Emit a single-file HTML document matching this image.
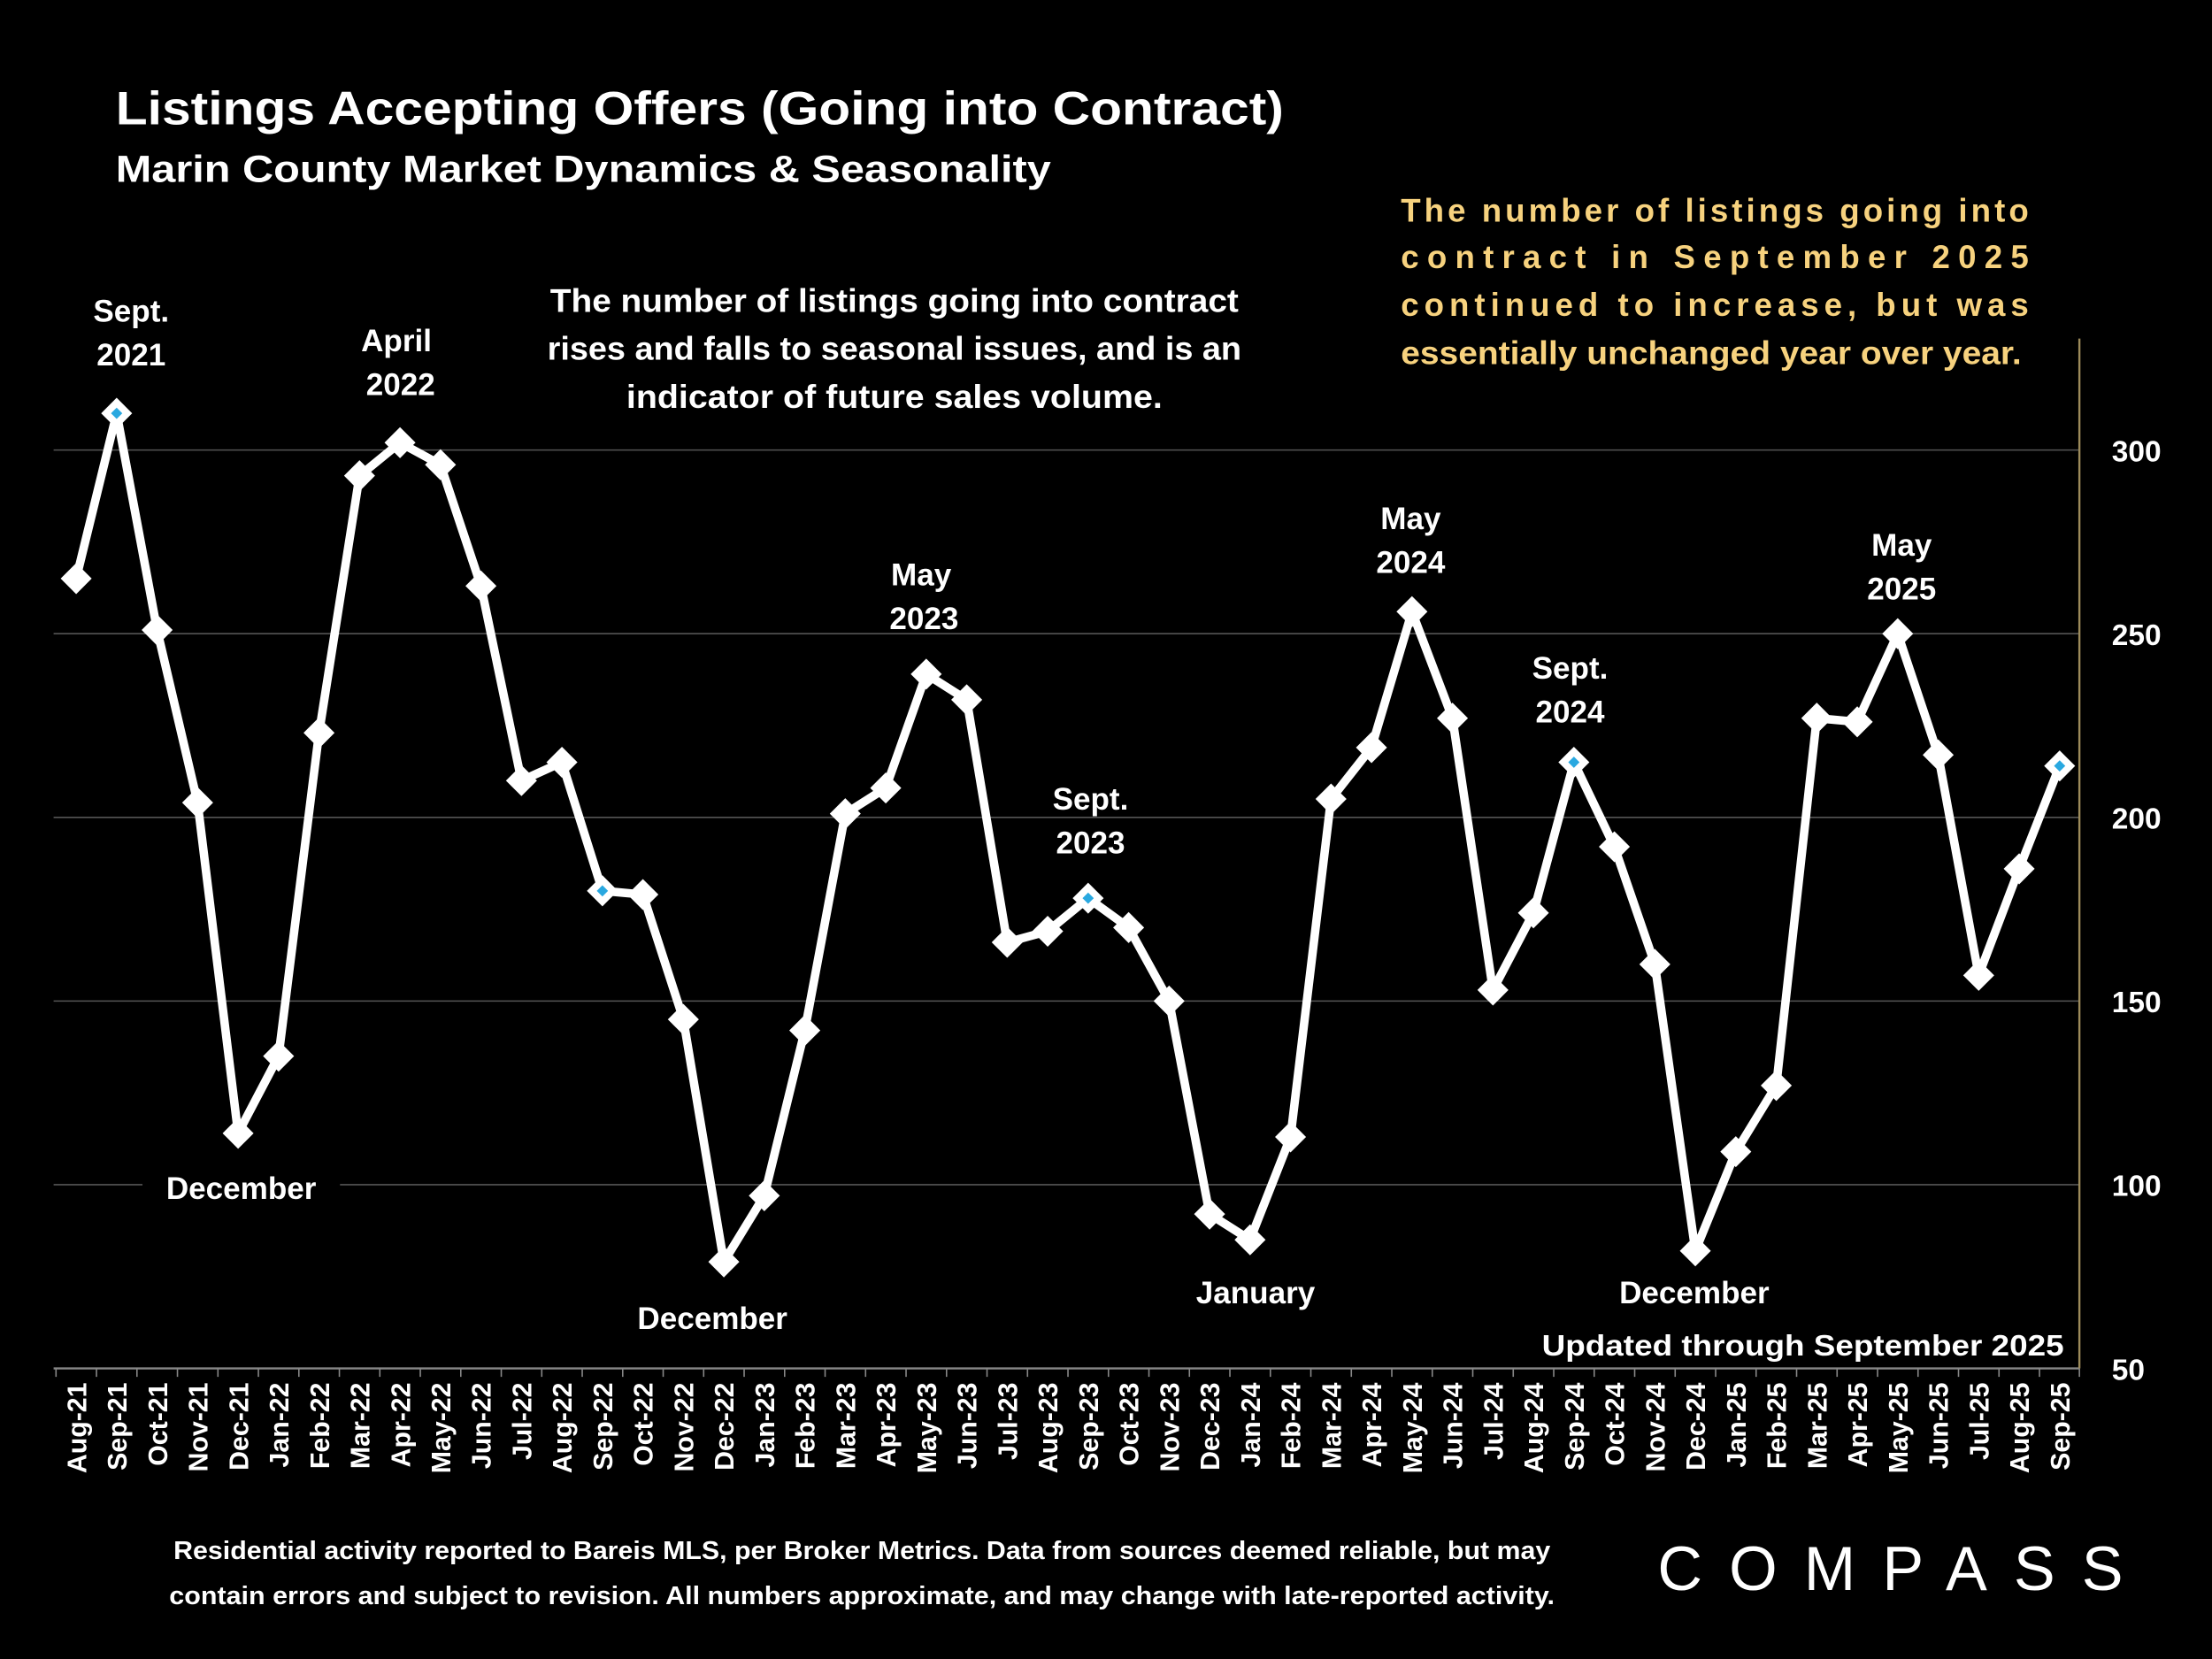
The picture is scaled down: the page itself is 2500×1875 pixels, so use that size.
<!DOCTYPE html>
<html><head><meta charset="utf-8"><style>
html,body{margin:0;padding:0;background:#000;}
svg{display:block;}
text{font-family:"Liberation Sans",sans-serif;font-weight:bold;fill:#fff;}
</style></head><body>
<svg id="chart" width="2500" height="1875" viewBox="0 0 1568 1176" preserveAspectRatio="none" xmlns="http://www.w3.org/2000/svg">
<rect width="1568" height="1176" fill="#000"/>
<text x="82" y="88" font-size="33" textLength="828" lengthAdjust="spacingAndGlyphs">Listings Accepting Offers (Going into Contract)</text>
<text x="82" y="129" font-size="27" textLength="663" lengthAdjust="spacingAndGlyphs">Marin County Market Dynamics &amp; Seasonality</text>
<g id="grid"></g>
<g id="axes"></g>
<g id="labels"></g>
<g id="series"></g>
<g font-size="23">
<text x="993" y="157" textLength="445" lengthAdjust="spacing" style="fill:#f7d27e">The number of listings going into</text>
<text x="993" y="190" textLength="445" lengthAdjust="spacing" style="fill:#f7d27e">contract in September 2025</text>
<text x="993" y="224" textLength="445" lengthAdjust="spacing" style="fill:#f7d27e">continued to increase, but was</text>
<text x="993" y="258" textLength="440" lengthAdjust="spacingAndGlyphs" style="fill:#f7d27e">essentially unchanged year over year.</text>
</g>
<g font-size="23" text-anchor="middle">
<text x="634" y="221" textLength="488" lengthAdjust="spacingAndGlyphs">The number of listings going into contract</text>
<text x="634" y="255" textLength="492" lengthAdjust="spacingAndGlyphs">rises and falls to seasonal issues, and is an</text>
<text x="634" y="289" textLength="380" lengthAdjust="spacingAndGlyphs">indicator of future sales volume.</text>
</g>
<text x="1463" y="961" font-size="21" text-anchor="end" textLength="370" lengthAdjust="spacingAndGlyphs">Updated through September 2025</text>
<g font-size="18" text-anchor="middle">
<text x="611" y="1105" textLength="976" lengthAdjust="spacingAndGlyphs">Residential activity reported to Bareis MLS, per Broker Metrics. Data from sources deemed reliable, but may</text>
<text x="611" y="1137" textLength="982" lengthAdjust="spacingAndGlyphs">contain errors and subject to revision. All numbers approximate, and may change with late-reported activity.</text>
</g>
<text x="1175" y="1127" font-size="44" textLength="330" lengthAdjust="spacing" style="font-weight:normal">COMPASS</text>
</svg>
<script>
const categories=["Aug-21","Sep-21","Oct-21","Nov-21","Dec-21","Jan-22","Feb-22","Mar-22","Apr-22","May-22","Jun-22","Jul-22","Aug-22","Sep-22","Oct-22","Nov-22","Dec-22","Jan-23","Feb-23","Mar-23","Apr-23","May-23","Jun-23","Jul-23","Aug-23","Sep-23","Oct-23","Nov-23","Dec-23","Jan-24","Feb-24","Mar-24","Apr-24","May-24","Jun-24","Jul-24","Aug-24","Sep-24","Oct-24","Nov-24","Dec-24","Jan-25","Feb-25","Mar-25","Apr-25","May-25","Jun-25","Jul-25","Aug-25","Sep-25"];
const values=[265,310,251,204,114,135,223,293,302,296,263,210,215,180,179,145,79,97,142,201,208,239,232,166,169,178,170,150,92,85,113,205,219,256,227,153,174,215,192,160,82,109,127,227,226,250,217,157,186,214];
const yTicks=[50,100,150,200,250,300];
const NS="http://www.w3.org/2000/svg";
const x0=54,x1=1460,yTop=319,yBot=970,vTop=300,vBot=50;
function xs(i){return x0+(x1-x0)*i/(categories.length-1);}
function ys(v){return yBot-(v-vBot)/(vTop-vBot)*(yBot-yTop);}
function mk(t,a,p){const e=document.createElementNS(NS,t);for(const k in a)e.setAttribute(k,a[k]);p.appendChild(e);return e;}
const grid=document.getElementById('grid'),axes=document.getElementById('axes'),labels=document.getElementById('labels'),series=document.getElementById('series');
yTicks.forEach(v=>{
 if(v>vBot){const l=mk('line',{x1:38,x2:1474,y1:ys(v),y2:ys(v),stroke:'#555','stroke-width':1},grid);
 
 }
 const t=mk('text',{x:1497,y:ys(v)+8,'font-size':21},axes);t.textContent=v;
 
 
});
mk('line',{x1:38,x2:1474,y1:yBot,y2:yBot,stroke:'#888','stroke-width':1.5},axes);
mk('line',{x1:1474,x2:1474,y1:240,y2:yBot,stroke:'#9c8a5a','stroke-width':1.5},axes);
categories.forEach((c,i)=>{
 const xx=xs(i);
 mk('line',{x1:xx-14.3,x2:xx-14.3,y1:yBot,y2:yBot+6,stroke:'#888'},axes);
 const t=mk('text',{x:0,y:0,'font-size':19,'text-anchor':'end',transform:`translate(${xx+7},${yBot+10}) rotate(-90)`},axes);
 t.textContent=c;
 
 
});
mk('line',{x1:1474,x2:1474,y1:yBot,y2:yBot+6,stroke:'#888'},axes);
function lab(x,y,s,bg){if(bg){mk('rect',{x:x-70,y:y-22,width:140,height:30,fill:'#000'},labels);}
 const t=mk('text',{x:x,y:y,'font-size':22,'text-anchor':'middle'},labels);t.textContent=s;
 
 }
lab(93,228,'Sept.');lab(93,259,'2021');lab(281,249,'April');lab(284,280,'2022');
lab(171,850,'December',true);lab(653,415,'May');lab(655,446,'2023');
lab(773,574,'Sept.');lab(773,605,'2023');lab(505,942,'December');lab(890,924,'January');
lab(1000,375,'May');lab(1000,406,'2024');lab(1113,481,'Sept.');lab(1113,512,'2024');
lab(1201,924,'December');lab(1348,394,'May');lab(1348,425,'2025');
const pts=values.map((v,i)=>xs(i)+','+ys(v)).join(' ');
const pl=mk('polyline',{points:pts,fill:'none',stroke:'#fff','stroke-width':6,'stroke-linejoin':'round'},series);


values.forEach((v,i)=>{
 const cx=xs(i),cy=ys(v),r=11;
 const d=mk('polygon',{points:`${cx},${cy-r} ${cx+r},${cy} ${cx},${cy+r} ${cx-r},${cy}`,fill:'#fff'},series);
 
 
 if(categories[i].startsWith('Sep')){const s=4;
  const b=mk('polygon',{points:`${cx},${cy-s} ${cx+s},${cy} ${cx},${cy+s} ${cx-s},${cy}`,fill:'#29a8e0'},series);
  
  }
});
</script>
</body></html>
